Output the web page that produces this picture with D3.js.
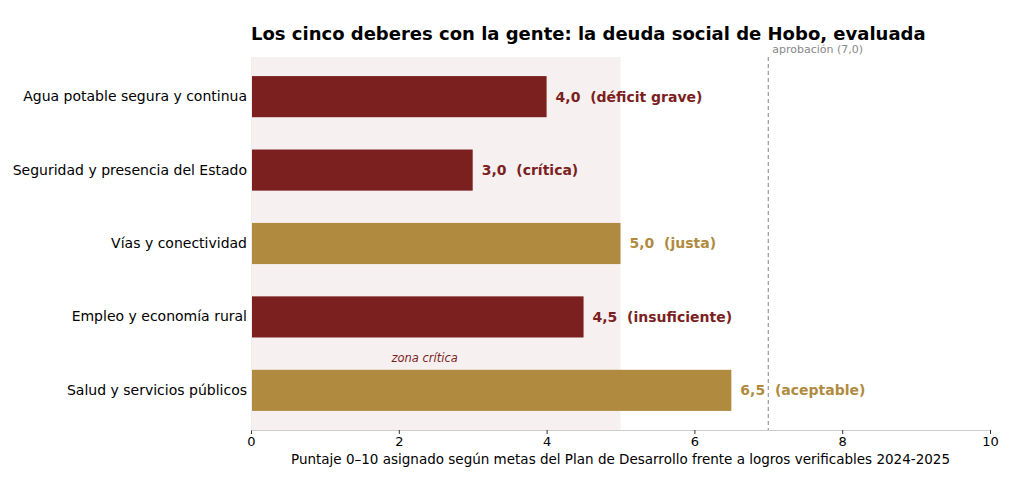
<!DOCTYPE html>
<html><head><meta charset="utf-8">
<script src="https://cdn.jsdelivr.net/npm/d3@7"></script>
<style>body{margin:0;background:#fff;font-family:"DejaVu Sans",sans-serif;} text{white-space:pre;}</style>
</head><body><div id="chart"></div>
<script>
const categories = ["Agua potable segura y continua","Seguridad y presencia del Estado","Vías y conectividad","Empleo y economía rural","Salud y servicios públicos"];
const scores = [4.0, 3.0, 5.0, 4.5, 6.5];
const verdicts = ["déficit grave","crítica","justa","insuficiente","aceptable"];
const xTicks = [0,2,4,6,8,10];
const approval = 7.0;
const criticalMax = 5;

const width = 1024, height = 491;
const margin = {top: 57, right: 34, bottom: 61, left: 251};
const red = "#7b1f1f", gold = "#b08b3f";

const svg = d3.select("#chart").append("svg").attr("width", width).attr("height", height);
const x = d3.scaleLinear().domain([0,10]).range([margin.left, width - margin.right]);
const y = d3.scaleBand().domain(categories).range([margin.top, height - margin.bottom]).paddingInner(0.44).paddingOuter(0.26);
const color = d => d >= 5 ? gold : red;

svg.append("rect").attr("x", x(0)).attr("y", margin.top).attr("width", x(criticalMax) - x(0))
  .attr("height", height - margin.bottom - margin.top).attr("fill", "#f7f0f0");

svg.selectAll("rect.bar").data(categories).join("rect").attr("class","bar")
  .attr("x", x(0)).attr("y", d => y(d)).attr("height", y.bandwidth())
  .attr("width", (d,i) => x(scores[i]) - x(0)).attr("fill", (d,i) => color(scores[i]));

svg.selectAll("text.val").data(categories).join("text").attr("class","val")
  .attr("x", (d,i) => x(scores[i]) + 9).attr("y", d => y(d) + y.bandwidth()/2).attr("dy","0.35em")
  .attr("font-size", 14).attr("font-weight","bold").attr("fill", (d,i) => color(scores[i]))
  .text((d,i) => scores[i].toFixed(1).replace(".", ",") + "  (" + verdicts[i] + ")");

svg.append("line").attr("x1", x(approval)).attr("x2", x(approval)).attr("y1", margin.top).attr("y2", height - margin.bottom)
  .attr("stroke", "#999").attr("stroke-dasharray", "4,3").attr("stroke-width", 1.2);
svg.append("text").attr("x", x(approval) + 4).attr("y", 53).attr("font-size", 11).attr("fill", "#888").text("aprobación (7,0)");

svg.append("text").attr("x", x(2.35)).attr("y", 362).attr("text-anchor","middle").attr("font-size", 11.5)
  .attr("font-style","italic").attr("fill", red).text("zona crítica");

const xa = svg.append("g").attr("transform", `translate(0,${height - margin.bottom})`)
  .call(d3.axisBottom(x).tickValues(xTicks).tickSize(4).tickPadding(3));
xa.selectAll("text").attr("font-size", 13).attr("fill","#000").attr("font-family","DejaVu Sans");
xa.select(".domain").attr("stroke", "#ccc");
xa.selectAll(".tick line").attr("stroke","#333");

const ya = svg.append("g").attr("transform", `translate(${margin.left},0)`)
  .call(d3.axisLeft(y).tickSize(0).tickPadding(4));
ya.selectAll("text").attr("font-size", 14).attr("fill","#000").attr("font-family","DejaVu Sans");
ya.select(".domain").attr("stroke", "#eee");

svg.append("text").attr("x", (x(0)+x(10))/2).attr("y", 464).attr("text-anchor","middle").attr("font-size", 13.5)
  .text("Puntaje 0–10 asignado según metas del Plan de Desarrollo frente a logros verificables 2024-2025");
svg.append("text").attr("x", 251).attr("y", 40).attr("font-size", 18).attr("font-weight","bold")
  .text("Los cinco deberes con la gente: la deuda social de Hobo, evaluada");
</script></body></html>
